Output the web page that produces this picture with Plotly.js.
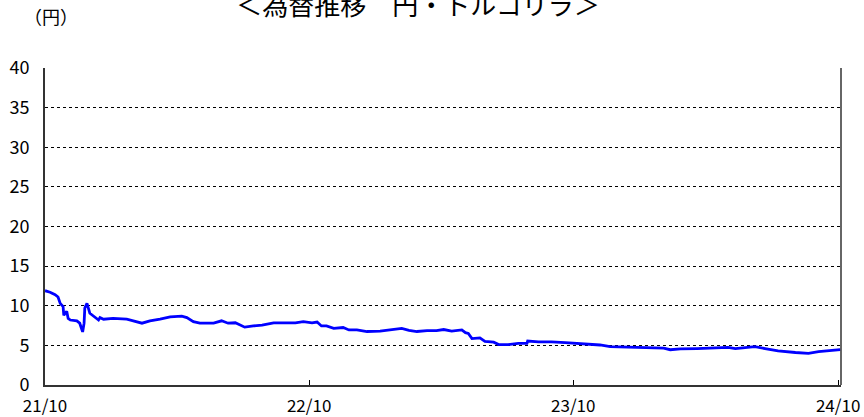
<!DOCTYPE html>
<html>
<head>
<meta charset="utf-8">
<script src="https://cdn.plot.ly/plotly-3.0.1.min.js"></script>
<style>html,body{margin:0;padding:0;background:#fff;}#chart{width:864px;height:417px;}</style>
</head>
<body>
<div id="chart"></div>
<script>
// Data (TRY/JPY rate)
const dates = [
  '2021-10-01','2021-10-08','2021-10-15','2021-10-19','2021-10-22','2021-10-26','2021-10-27','2021-10-31',
  '2021-11-02','2021-11-05','2021-11-14','2021-11-18','2021-11-22','2021-11-24','2021-11-25','2021-11-28',
  '2021-12-02','2021-12-09','2021-12-14','2021-12-16','2021-12-21','2022-01-03','2022-01-22','2022-01-31',
  '2022-02-12','2022-02-23','2022-03-09','2022-03-23','2022-04-08','2022-04-15','2022-04-24','2022-05-03',
  '2022-05-22','2022-06-02','2022-06-11','2022-06-21','2022-07-04','2022-07-16','2022-07-28','2022-08-13',
  '2022-09-12','2022-09-23','2022-10-05','2022-10-12','2022-10-18','2022-10-25','2022-11-04','2022-11-17',
  '2022-11-25','2022-12-06','2022-12-20','2023-01-07','2023-01-21','2023-02-06','2023-02-16','2023-02-27',
  '2023-03-13','2023-03-26','2023-04-05','2023-04-16','2023-04-30','2023-05-05','2023-05-09','2023-05-14',
  '2023-05-25','2023-06-01','2023-06-13','2023-06-20','2023-07-03','2023-07-17','2023-07-29','2023-07-30',
  '2023-08-14','2023-09-01','2023-09-20','2023-10-13','2023-10-24','2023-11-07','2023-11-21','2023-12-19',
  '2024-01-11','2024-02-03','2024-02-12','2024-02-26','2024-03-20','2024-04-12','2024-05-02','2024-05-12',
  '2024-06-08','2024-06-22','2024-07-10','2024-08-03','2024-08-21','2024-09-04','2024-09-22','2024-10-04'
];
const rates = [
  11.9, 11.7, 11.4, 11.1, 10.3, 9.9, 8.8, 9.3,
  8.4, 8.2, 8.1, 7.8, 6.7, 7.8, 9.7, 10.3,
  9.05, 8.6, 8.2, 8.5, 8.3, 8.4, 8.3, 8.1,
  7.8, 8.1, 8.3, 8.6, 8.7, 8.5, 8.0, 7.8,
  7.8, 8.1, 7.8, 7.85, 7.3, 7.45, 7.55, 7.85,
  7.85, 8.0, 7.85, 7.95, 7.45, 7.45, 7.15, 7.25,
  6.95, 6.95, 6.75, 6.8, 7.0, 7.15, 6.9, 6.75,
  6.85, 6.85, 7.0, 6.8, 6.95, 6.6, 6.5, 5.85,
  5.95, 5.5, 5.4, 5.1, 5.1, 5.25, 5.25, 5.55,
  5.45, 5.45, 5.35, 5.25, 5.15, 5.05, 4.85, 4.75,
  4.75, 4.65, 4.45, 4.55, 4.6, 4.7, 4.75, 4.6,
  4.85, 4.6, 4.3, 4.1, 4.0, 4.2, 4.3, 4.45
];
const xTickVals = ['2021-10-01','2022-10-01','2023-10-01','2024-10-01'];
const xTickText = ['21/10','22/10','23/10','24/10'];
const yTickVals = [0,5,10,15,20,25,30,35,40];
const titleText = '＜為替推移　円・トルコリラ＞';
const unitText = '（円）';

const FONT = '"Noto Sans CJK JP", "Noto Sans", sans-serif';

const trace = {
  x: dates, y: rates, type: 'scatter', mode: 'lines',
  line: {color: '#0000FF', width: 2.8},
  hoverinfo: 'skip'
};

const layout = {
  width: 864, height: 417,
  margin: {l: 45, r: 23, t: 68, b: 32, pad: 0},
  paper_bgcolor: '#fff', plot_bgcolor: '#fff',
  font: {family: FONT, color: '#000', size: 17},
  showlegend: false,
  title: {
    text: titleText,
    font: {family: FONT, size: 26, color: '#000'},
    x: 418/864, xanchor: 'center', xref: 'container',
    y: 1 - 6/417, yanchor: 'middle', yref: 'container'
  },
  xaxis: {
    type: 'date',
    range: ['2021-10-01', '2024-10-05'],
    tickmode: 'array', tickvals: xTickVals, ticktext: xTickText,
    ticks: 'inside', ticklen: 5, tickwidth: 1, tickcolor: '#000',
    showgrid: false, zeroline: false,
    showline: true, linecolor: '#333', linewidth: 2,
    tickfont: {family: FONT, size: 17, color: '#000'},
    ticklabelstandoff: 5,
    fixedrange: true
  },
  yaxis: {
    range: [0, 40],
    tickmode: 'array', tickvals: yTickVals,
    ticks: '', showgrid: true, gridcolor: '#000', gridwidth: 1, griddash: 'dot',
    zeroline: false,
    showline: true, linecolor: '#333', linewidth: 2,
    tickfont: {family: FONT, size: 18, color: '#000'},
    ticklabelstandoff: 10,
    fixedrange: true
  },
  shapes: [
    {type: 'line', xref: 'paper', yref: 'paper', x0: 1, x1: 1, y0: 0, y1: 1,
     line: {color: '#333', width: 1.5}}
  ],
  annotations: [
    {text: unitText, xref: 'paper', yref: 'paper', x: 6/796, y: (385-16)/317,
     xanchor: 'center', yanchor: 'middle', showarrow: false,
     font: {family: FONT, size: 18, color: '#000'}}
  ]
};

Plotly.newPlot('chart', [trace], layout, {staticPlot: true, displayModeBar: false});
</script>
</body>
</html>
